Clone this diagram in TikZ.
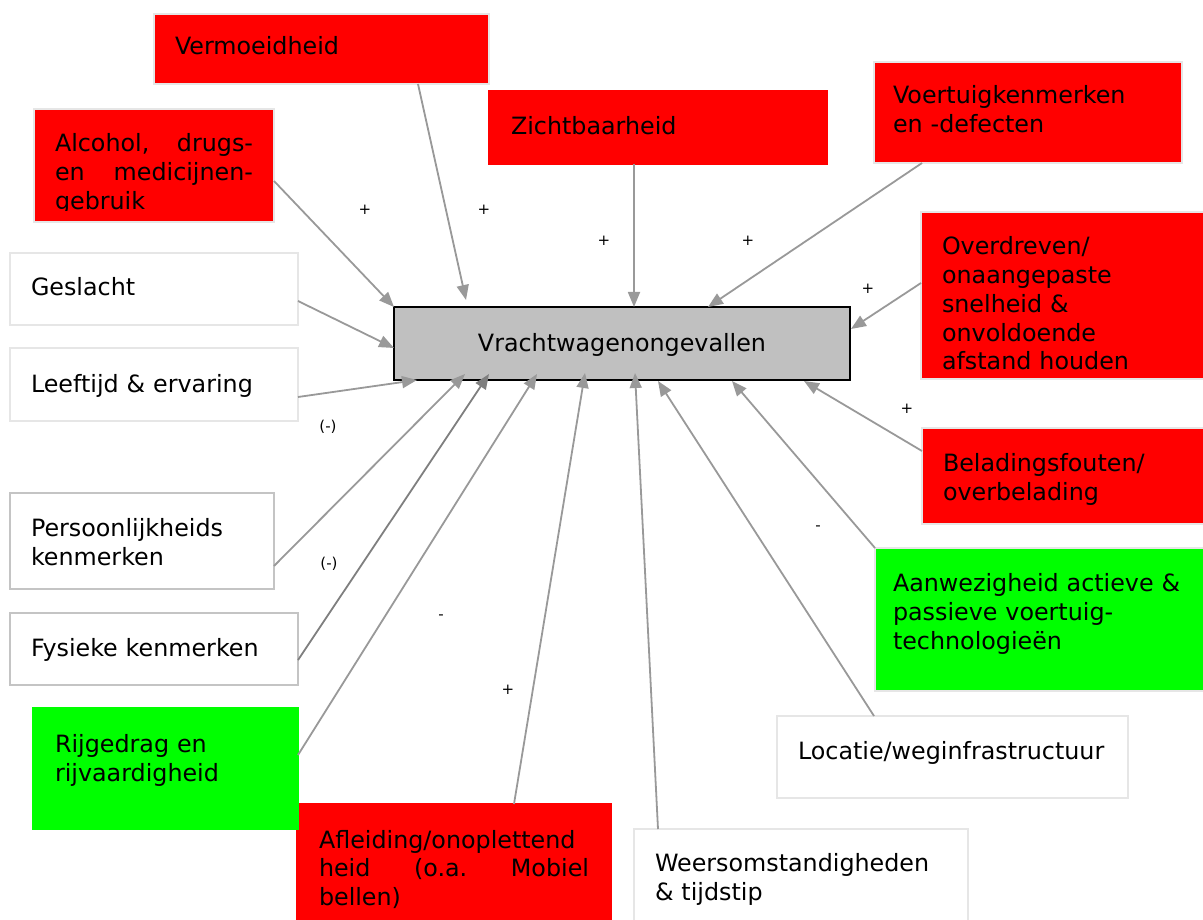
\documentclass[tikz,border=0pt]{standalone}
\usepackage{fontspec}
\setmainfont{DejaVu Sans}
\usetikzlibrary{arrows.meta}
\definecolor{bred}{HTML}{FF0000}
\definecolor{bgreen}{HTML}{00FF00}
\definecolor{cfill}{HTML}{C0C0C0}
\definecolor{lborder}{HTML}{E6E6E6}
\definecolor{dborder}{HTML}{C4C4C4}
\definecolor{arr}{HTML}{999999}
\definecolor{darr}{HTML}{7F7F7F}
\begin{document}
\begin{tikzpicture}[x=1pt,y=-1pt,
  box/.style={draw=lborder, line width=1.5pt, anchor=north west, inner sep=0pt, outer sep=0pt, rectangle},
  txt/.style={anchor=base west, inner sep=0pt, outer sep=0pt, text width=340pt, align=left, font=\fontsize{23.8}{29}\selectfont},
  lbl/.style={inner sep=0pt, font=\fontsize{15}{17}\selectfont},
  conn/.style={draw=arr, line width=1.8pt, -{Triangle[length=15pt,width=12pt]}}
]
\useasboundingbox (0,0) rectangle (1203,920);

% boxes
\node[box, fill=bred, minimum width=335pt, minimum height=70pt] (verm) at (154,14) {};
\node[box, fill=bred, minimum width=240pt, minimum height=113pt] (alc) at (34,109) {};
\node[box, fill=bred, draw=bred, minimum width=338pt, minimum height=73pt] (zicht) at (489,91) {};
\node[box, fill=bred, minimum width=308pt, minimum height=101pt] (voert) at (874,62) {};
\node[box, fill=bred, minimum width=290pt, minimum height=167pt] (overd) at (921,212) {};
\node[box, fill=bred, minimum width=290pt, minimum height=96pt] (belad) at (922,428) {};
\node[box, fill=bgreen, minimum width=336pt, minimum height=143pt] (aanw) at (875,548) {};
\node[box, fill=white, minimum width=351pt, minimum height=82pt] (loc) at (777,716) {};
\node[box, fill=white, minimum width=334pt, minimum height=110pt] (weers) at (634,829) {};
\node[box, fill=bred, draw=bred, minimum width=314pt, minimum height=126pt] (afl) at (297,804) {};
\node[box, fill=bgreen, draw=bgreen, minimum width=265pt, minimum height=121pt] (rij) at (33,708) {};
\node[box, fill=white, draw=dborder, minimum width=288pt, minimum height=72pt] (fys) at (10,613) {};
\node[box, fill=white, draw=dborder, minimum width=264pt, minimum height=96pt] (pers) at (10,493) {};
\node[box, fill=white, minimum width=288pt, minimum height=73pt] (leef) at (10,348) {};
\node[box, fill=white, minimum width=288pt, minimum height=72pt] (gesl) at (10,253) {};
\node[box, fill=cfill, draw=black, line width=2pt, minimum width=456pt, minimum height=73pt] (cen) at (394,307) {};

% texts
\node[txt] (vermt) at (175,55) {Vermoeidheid};
\begin{scope}
  \clip (34,109) rectangle (274,211);
  \node[txt] (alct) at (55,152) {\makebox[198pt][l]{Alcohol,\hfill drugs-}\\\makebox[198pt][l]{en\hfill medicijnen-}\\gebruik};
\end{scope}
\node[txt] (zichtt) at (511,135) {Zichtbaarheid};
\node[txt] (voertt) at (893,104) {Voertuigkenmerken\\en -defecten};
\begin{scope}
  \clip (921,212) rectangle (1203,369);
  \node[txt, font=\fontsize{23.8}{28.7}\selectfont] (overdt) at (942,255) {Overdreven/\\onaangepaste\\snelheid \&\\onvoldoende\\afstand houden};
\end{scope}
\node[txt] (beladt) at (943,471) {Beladingsfouten/\\overbelading};
\node[txt] (aanwt) at (893,591) {Aanwezigheid actieve \&\\passieve voertuig-\\technologieën};
\node[txt] (loct) at (798,759) {Locatie/weginfrastructuur};
\node[txt] (weerst) at (655,871) {Weersomstandigheden\\\& tijdstip};
\node[txt, font=\fontsize{23.8}{28.5}\selectfont] (aflt) at (319,848) {Afleiding/onoplettend\\\makebox[270pt][l]{heid\hfill (o.a.\hfill Mobiel}\\bellen)};
\node[txt] (rijt) at (55,752) {Rijgedrag en\\rijvaardigheid};
\node[txt] (fyst) at (31,656) {Fysieke kenmerken};
\node[txt] (perst) at (31,536) {Persoonlijkheids\\kenmerken};
\node[txt] (leeft) at (31,392) {Leeftijd \& ervaring};
\node[txt] (geslt) at (31,296) {Geslacht};
\node[anchor=base, inner sep=0pt, font=\fontsize{23.8}{29}\selectfont] (cent) at (622,351) {Vrachtwagenongevallen};

% connectors
\draw[conn] ([yshift=-72pt]alc.north east) -- (cen.north west);
\draw[conn] ([xshift=-71pt]verm.south east) -- ([xshift=72pt,yshift=7pt]cen.north west);
\draw[conn] ([xshift=145pt]zicht.south west) -- ([xshift=240pt]cen.north west);
\draw[conn] ([xshift=48pt]voert.south west) -- ([xshift=314pt]cen.north west);
\draw[conn] ([yshift=-71pt]overd.north west) -- ([xshift=1pt,yshift=-22pt]cen.north east);
\draw[conn] ([yshift=-23pt]belad.north west) -- ([xshift=-46pt,yshift=-1pt]cen.south east);
\draw[conn] (aanw.north west) -- ([xshift=-118pt,yshift=-1pt]cen.south east);
\draw[conn] ([xshift=97pt]loc.north west) -- ([xshift=-192pt,yshift=-1pt]cen.south east);
\draw[conn] ([xshift=24pt]weers.north west) -- ([xshift=241pt,yshift=7pt]cen.south west);
\draw[conn] ([xshift=217pt]afl.north west) -- ([xshift=191pt,yshift=7pt]cen.south west);
\draw[conn] ([yshift=-47pt]rij.north east) -- ([xshift=143pt,yshift=6pt]cen.south west);
\draw[conn, draw=darr] ([yshift=-47pt]fys.north east) -- ([xshift=95pt,yshift=6pt]cen.south west);
\draw[conn] ([yshift=-73pt]pers.north east) -- ([xshift=71pt,yshift=6pt]cen.south west);
\draw[conn] ([yshift=-49pt]leef.north east) -- ([xshift=23pt]cen.south west);
\draw[conn] ([yshift=-48pt]gesl.north east) -- ([yshift=-41pt]cen.north west);

% polarity labels
\node[lbl] (p1) at (365,210) {+};
\node[lbl] (p2) at (484,210) {+};
\node[lbl] (p3) at (604,241) {+};
\node[lbl] (p4) at (748,241) {+};
\node[lbl] (p5) at (868,289) {+};
\node[lbl] (p6) at (907,409) {+};
\node[lbl] (p7) at (328,427) {(-)};
\node[lbl] (p8) at (329,564) {(-)};
\node[lbl] (p9) at (441,617) {-};
\node[lbl] (p10) at (508,690) {+};
\node[lbl] (p11) at (818,528) {-};
\end{tikzpicture}
\end{document}
